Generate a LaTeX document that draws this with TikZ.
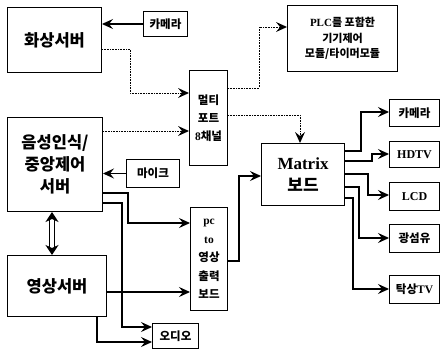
\documentclass[tikz,border=0pt]{standalone}
\usepackage{fontspec}
\setmainfont{Liberation Serif}
\newfontfamily\kr{Noto Sans CJK KR}
\newfontfamily\lat{Liberation Serif}
\usetikzlibrary{arrows.meta}
\begin{document}
\begin{tikzpicture}[x=1pt,y=-1pt,
  box/.style={draw, line width=1pt, inner sep=0pt, align=center, anchor=north west, font=\kr\bfseries\fontsize{11.5}{15}\selectfont},
  big/.style={font=\kr\bfseries\fontsize{16.5}{22}\selectfont},
  arr/.style={line width=1.1pt, -{Stealth[length=11pt,width=10pt,inset=4pt]}},
  dot/.style={line width=0.6pt, densely dotted, -{Stealth[length=11pt,width=10pt,inset=4pt,line width=0pt]}},
]
\path[fill=white,use as bounding box] (0,0) rectangle (441,351);
% boxes
\node[box,big,minimum width=94pt,minimum height=65pt] (hwa) at (7,7) {화상서버};
\node[box,minimum width=44pt,minimum height=25pt] (cam1) at (143,11) {카메라};
\node[box,minimum width=38pt,minimum height=95pt,font=\kr\bfseries\fontsize{11.5}{18}\selectfont] (multi) at (189,70) {멀티\\포트\\{\lat 8}채널};
\node[box,minimum width=110pt,minimum height=66pt,font=\kr\bfseries\fontsize{11}{15.5}\selectfont] (plc) at (287,5) {{\lat PLC}를 포함한\\기기제어\\모듈/타이머모듈};
\node[box,big,minimum width=95pt,minimum height=94pt] (voice) at (7,117) {음성인식/\\중앙제어\\서버};
\node[box,minimum width=53pt,minimum height=28pt] (mic) at (126,159) {마이크};
\node[box,big,minimum width=99pt,minimum height=61pt] (video) at (7,255) {영상서버};
\node[box,minimum width=46pt,minimum height=25pt] (audio) at (152,323) {오디오};
\node[box,minimum width=37pt,minimum height=103pt,font=\kr\bfseries\fontsize{11.5}{18.5}\selectfont] (pc) at (190,207) {{\lat pc}\\{\lat to}\\영상\\출력\\보드};
\node[box,minimum width=83pt,minimum height=62pt,font=\kr\bfseries\fontsize{17}{22}\selectfont] (matrix) at (261,143) {{\lat Matrix}\\보드};
\node[box,minimum width=50pt,minimum height=27pt] (cam2) at (389,99) {카메라};
\node[box,minimum width=50pt,minimum height=26pt] (hdtv) at (389,141) {\lat\fontsize{12}{14}\selectfont HDTV};
\node[box,minimum width=50pt,minimum height=28pt] (lcd) at (389,182) {\lat\fontsize{12}{14}\selectfont LCD};
\node[box,minimum width=50pt,minimum height=28pt] (fiber) at (389,224) {광섬유};
\node[box,minimum width=50pt,minimum height=28pt] (tv) at (389,275) {탁상{\lat TV}};
% connectors
\draw[arr] (cam1.west) -- (hwa.east |- cam1.west);
\draw[dot] (hwa.east |- 0,49) -- (130,49) -- (130,93) -- (multi.west |- 0,93);
\draw[dot] (voice.east |- 0,131) -- (multi.west |- 0,131);
\draw[dot] (multi.east |- 0,88) -- (259,88) -- (259,27) -- (plc.west |- 0,27);
\draw[dot] (multi.east |- 0,115) -- (300,115) -- (matrix.north -| 300,0);
\draw[arr] (mic.west) -- (voice.east |- mic.west);
\draw[arr] (voice.east |- 0,193) -- (128,193) -- (128,223) -- (pc.west |- 0,223);
\draw[arr] (voice.east |- 0,203) -- (122,203) -- (122,327) -- (audio.west |- 0,327);
\draw[line width=1.7pt, double distance=3.5pt, {Stealth[length=10pt,width=13pt,inset=3pt]}-{Stealth[length=10pt,width=13pt,inset=3pt]}] (voice.south -| 52,0) -- (video.north -| 52,0);
\draw[arr] (video.east |- 0,292) -- (pc.west |- 0,292);
\draw[arr] (video.south -| 97,0) -- (97,342) -- (audio.west |- 0,342);
\draw[arr] (pc.east |- 0,261) -- (239,261) -- (239,176) -- (matrix.west |- 0,176);
\draw[arr] (matrix.east |- 0,151) -- (361,151) -- (361,112) -- (cam2.west |- 0,112);
\draw[arr] (matrix.east |- 0,161) -- (372,161) -- (372,154) -- (hdtv.west |- 0,154);
\draw[arr] (matrix.east |- 0,174) -- (368,174) -- (368,195) -- (lcd.west |- 0,195);
\draw[arr] (matrix.east |- 0,187) -- (359,187) -- (359,238) -- (fiber.west |- 0,238);
\draw[arr] (matrix.east |- 0,198) -- (353,198) -- (353,289) -- (tv.west |- 0,289);
\end{tikzpicture}
\end{document}
